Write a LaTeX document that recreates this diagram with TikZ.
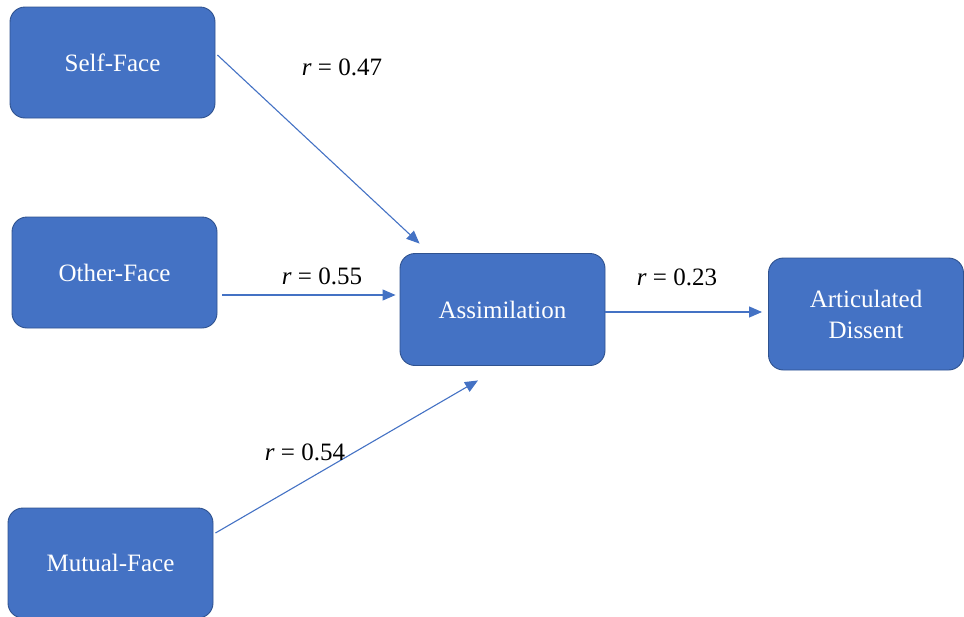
\documentclass[tikz,border=0pt]{standalone}
\usepackage{fontspec}
\setmainfont{Liberation Serif}
\usetikzlibrary{arrows.meta,calc}
\definecolor{boxfill}{HTML}{4472C4}
\definecolor{boxline}{HTML}{2F528F}
\definecolor{linkblue}{HTML}{4472C4}
\begin{document}
\begin{tikzpicture}[x=1pt,y=-1pt,
  factor/.style={draw=boxline,line width=0.9pt,fill=boxfill,rounded corners=15pt,
    minimum width=205pt,minimum height=111pt,inner sep=0pt,text=white,
    font=\fontsize{25}{31}\selectfont,align=center},
  link/.style={draw=linkblue,line width=1.1pt,-{Triangle[length=13pt,width=11pt]}},
  coef/.style={font=\fontsize{25}{28}\selectfont,inner sep=0pt}]
\useasboundingbox (0,0) rectangle (964,616);
% boxes
\node[factor] (sf) at (112.5,62.5) {Self-Face};
\node[factor] (of) at (114.5,272.5) {Other-Face};
\node[factor,minimum height=110pt] (mf) at (110.5,563) {Mutual-Face};
\node[factor,minimum height=112pt] (as) at (502.5,309.5) {Assimilation};
\node[factor,minimum width=195pt,minimum height=112pt] (ad) at (866,314) {Articulated\\Dissent};
% paths
\draw[link] ($(sf.east)+(2,-7.5)$) -- ($(as.north west)+(20,-9.5)$);
\draw[link] ($(of.east)+(5,22.5)$) -- ($(as.west)+(-4,-14.5)$);
\draw[link] ($(mf.east)+(2,-30)$) -- ($(as.south)+(-24.5,14.5)$);
\draw[link] ($(as.east)+(0,2.5)$) -- ($(ad.west)+(-6,-2)$);
% coefficients
\node[coef] (c1) at (342,67) {\textit{r} = 0.47};
\node[coef] (c2) at (322,276) {\textit{r} = 0.55};
\node[coef] (c3) at (305,452) {\textit{r} = 0.54};
\node[coef] (c4) at (677,277) {\textit{r} = 0.23};
\end{tikzpicture}
\end{document}
